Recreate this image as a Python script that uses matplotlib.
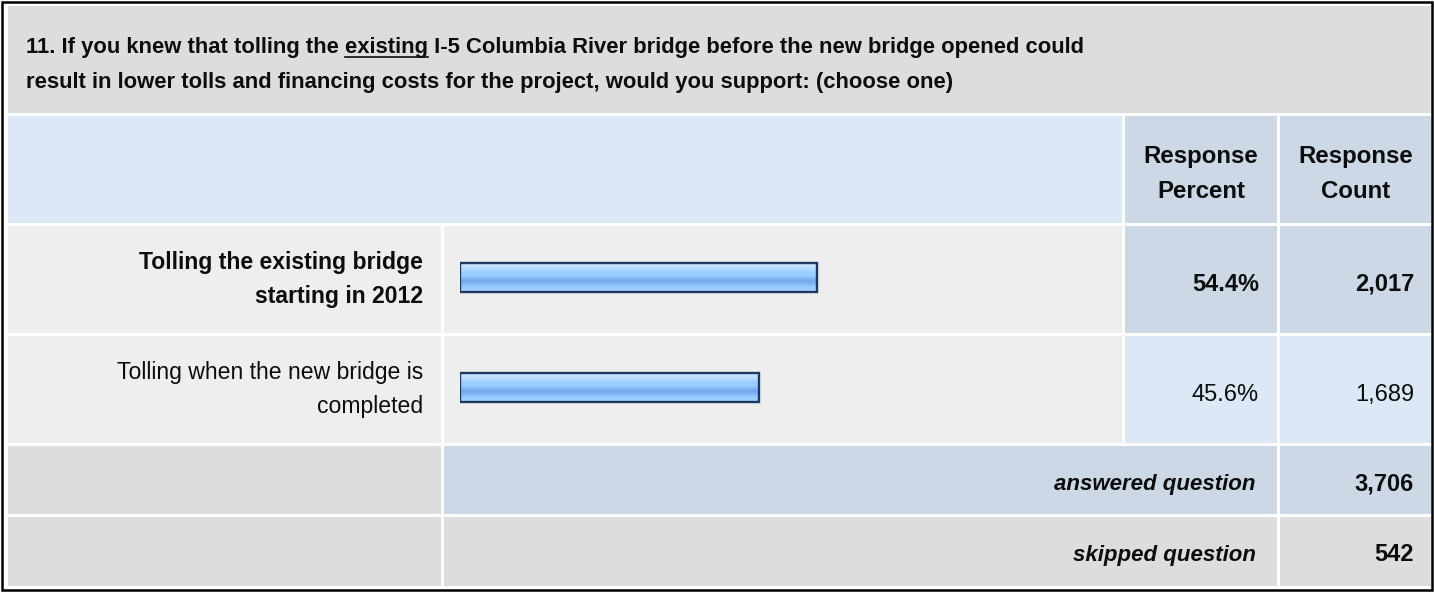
import matplotlib
matplotlib.use('Agg')
import matplotlib.pyplot as plt
import numpy as np
from matplotlib.patches import Rectangle
from matplotlib.colors import to_rgb

# survey question 11 data
question_lines = [
    "11. If you knew that tolling the existing I-5 Columbia River bridge before the new bridge opened could",
    "result in lower tolls and financing costs for the project, would you support: (choose one)",
]
underlined_word = "existing"
header_cols = [["Response", "Percent"], ["Response", "Count"]]
answer_labels = [
    ["Tolling the existing bridge", "starting in 2012"],
    ["Tolling when the new bridge is", "completed"],
]
answer_percents = [54.4, 45.6]
answer_counts = [2017, 1689]
answered_count = 3706
skipped_count = 542

FONT = 'Liberation Sans'

W, H = 1434, 593
fig = plt.figure(figsize=(W / 100, H / 100), dpi=100)
fig.patch.set_facecolor('white')
ax = fig.add_axes([0, 0, 1, 1])
ax.set_xlim(0, W)
ax.set_ylim(H, 0)
ax.axis('off')

GRAY = '#dddddd'
ROWBG = '#eeeeee'
LBLUE = '#dce8f5'
DBLUE = '#ccd8e6'

# column / row edges (pixels)
cols = [(8, 441), (444, 1122), (1125, 1277), (1280, 1431)]
title_row = (6, 113)
head_row = (116, 223)
ans_rows = [(226, 333), (336, 443)]
answered_row = (446, 514)
skipped_row = (517, 586)


def cell(x0, x1, y0, y1, color):
    ax.add_patch(Rectangle((x0, y0), x1 - x0, y1 - y0, facecolor=color,
                           edgecolor='none', zorder=1))


def txt(x, y, s, size, ha='left', weight='bold', style='normal'):
    return ax.text(x, y, s, ha=ha, va='baseline', fontsize=size, family=FONT,
                   fontweight=weight, fontstyle=style, color='#0d0d0d', zorder=5)


# outer frame
ax.add_patch(Rectangle((2, 2), 1430, 588, facecolor='none', edgecolor='black',
                       lw=1.8, zorder=6))

# title
TS = 15.8
cell(cols[0][0], cols[3][1], *title_row, GRAY)
txt(26, 53, question_lines[0], TS)
txt(26, 88, question_lines[1], TS)
renderer = fig.canvas.get_renderer()


def width(s):
    t = txt(0, 0, s, TS)
    w = t.get_window_extent(renderer).width
    t.remove()
    return w


head = question_lines[0][:question_lines[0].index(underlined_word) + len(underlined_word)]
x_end = 26 + width(head)
x_beg = x_end - width(underlined_word)
ax.plot([x_beg, x_end], [56.5, 56.5], color='#0d0d0d', lw=1.2, zorder=5)

# header row
cell(cols[0][0], cols[1][1], *head_row, LBLUE)
for (c0, c1), lines in zip(cols[2:], header_cols):
    cell(c0, c1, *head_row, DBLUE)
    txt((c0 + c1) / 2, 163, lines[0], 17.3, ha='center')
    txt((c0 + c1) / 2, 198, lines[1], 17.3, ha='center')

# answer rows
LS = 16.6
for i, (y0, y1) in enumerate(ans_rows):
    bold = 'bold' if i == 0 else 'normal'
    cell(cols[0][0], cols[0][1], y0, y1, ROWBG)
    cell(cols[1][0], cols[1][1], y0, y1, ROWBG)
    cell(cols[2][0], cols[2][1], y0, y1, DBLUE if i == 0 else LBLUE)
    cell(cols[3][0], cols[3][1], y0, y1, DBLUE if i == 0 else LBLUE)
    yc = (y0 + y1) / 2
    txt(423, yc - 10.5, answer_labels[i][0], LS, ha='right', weight=bold)
    txt(423, yc + 23.5, answer_labels[i][1], LS, ha='right', weight=bold)
    txt(1259, yc + 11.5, f"{answer_percents[i]:.1f}%", 17, ha='right', weight=bold)
    txt(1414, yc + 11.5, f"{answer_counts[i]:,}", 17, ha='right', weight=bold)

# answered / skipped
cell(cols[0][0], cols[0][1], *answered_row, GRAY)
cell(cols[1][0], cols[2][1], *answered_row, DBLUE)
cell(cols[3][0], cols[3][1], *answered_row, DBLUE)
txt(1256, 490, "answered question", 16, ha='right', style='italic')
txt(1414, 490, f"{answered_count:,}", 17, ha='right')

cell(cols[0][0], cols[0][1], *skipped_row, GRAY)
cell(cols[1][0], cols[2][1], *skipped_row, GRAY)
cell(cols[3][0], cols[3][1], *skipped_row, GRAY)
txt(1256, 561, "skipped question", 16, ha='right', style='italic')
txt(1414, 561, f"{skipped_count:,}", 17, ha='right')

# bars: 0..100 % spans x = 460..1116 px
bx = fig.add_axes([460 / W, 0, 656 / W, 1])
bx.patch.set_alpha(0)
bx.axis('off')
grad_stops = ['#cce6ff', '#bfe0ff', '#aad5ff', '#99ccff', '#99ccff',
              '#7fb3f2', '#74a9ee', '#8bbff9', '#99ccff', '#a3d0ff']
grad = np.array([to_rgb(c) for c in grad_stops])[:, None, :]
bar_h = 29
bar_y = [(y0 + y1) / 2 - 2 for (y0, y1) in ans_rows]
bars = bx.barh(bar_y, answer_percents, height=bar_h, left=0,
               facecolor='none', edgecolor='#1d3a63', linewidth=1.7, zorder=4)
for b, yc, p in zip(bars, bar_y, answer_percents):
    im = bx.imshow(grad, extent=[0, p, yc + bar_h / 2, yc - bar_h / 2],
                   aspect='auto', interpolation='bilinear', zorder=3)
    im.set_clip_path(b)
bx.set_xlim(0, 100)
bx.set_ylim(H, 0)

fig.savefig('out.png', dpi=100, facecolor='white')
